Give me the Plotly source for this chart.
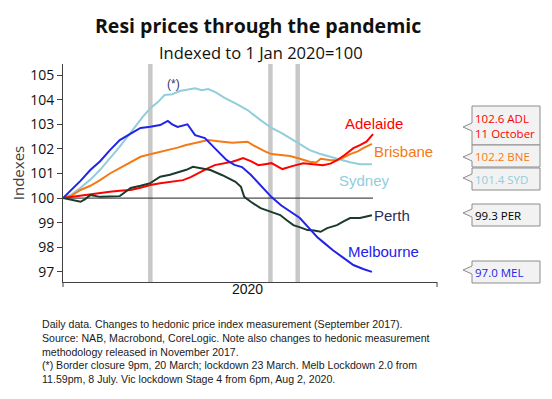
import pandas as pd
import plotly.graph_objects as go

# ---- data (days since 1 Jan 2020, index values) ----
syd_days = [0, 8, 16, 25, 34, 43, 52, 60, 66, 73, 80, 87, 93, 100, 107, 114, 121, 127, 133, 140, 148, 158, 169, 180, 191, 200, 208, 217, 226, 235, 245, 254, 263, 272, 283]
syd_vals = [100, 100.15, 100.42, 100.75, 101.15, 101.6, 102.09, 102.55, 102.9, 103.3, 103.65, 103.9, 104.19, 104.22, 104.35, 104.4, 104.46, 104.38, 104.43, 104.3, 104.07, 103.85, 103.58, 103.2, 102.85, 102.65, 102.44, 102.2, 101.95, 101.8, 101.67, 101.55, 101.46, 101.38, 101.38]

mel_days = [0, 8, 16, 25, 34, 43, 52, 62, 71, 80, 89, 96, 100, 105, 110, 114, 121, 130, 139, 150, 157, 164, 172, 179, 185, 191, 200, 208, 217, 225, 233, 240, 247, 256, 266, 275, 283]
mel_vals = [100, 100.35, 100.7, 101.14, 101.5, 101.95, 102.36, 102.62, 102.85, 102.9, 102.97, 103.14, 103.0, 102.89, 102.95, 103.0, 102.56, 102.44, 102.03, 101.54, 101.35, 101.26, 100.95, 100.61, 100.3, 100.04, 99.7, 99.45, 99.19, 98.8, 98.41, 98.15, 97.89, 97.6, 97.28, 97.12, 97.0]

bne_days = [0, 8, 16, 25, 34, 43, 52, 62, 71, 80, 89, 98, 105, 112, 122, 133, 144, 155, 162, 169, 174, 179, 185, 191, 200, 208, 217, 226, 232, 236, 244, 251, 257, 263, 270, 275, 283]
bne_vals = [100, 100.1, 100.33, 100.5, 100.73, 101.0, 101.22, 101.45, 101.68, 101.78, 101.88, 101.95, 102.05, 102.15, 102.25, 102.36, 102.3, 102.25, 102.27, 102.29, 102.15, 102.03, 101.9, 101.79, 101.75, 101.71, 101.6, 101.48, 101.45, 101.6, 101.55, 101.54, 101.65, 101.79, 101.9, 102.03, 102.2]

adl_days = [0, 8, 16, 30, 43, 52, 62, 71, 80, 89, 98, 104, 110, 117, 124, 132, 139, 147, 155, 160, 165, 172, 179, 185, 191, 196, 201, 210, 220, 229, 238, 245, 251, 258, 266, 272, 278, 284]
adl_vals = [100, 100.05, 100.12, 100.2, 100.26, 100.3, 100.33, 100.42, 100.53, 100.6, 100.66, 100.7, 100.73, 100.85, 101.02, 101.2, 101.34, 101.4, 101.48, 101.55, 101.63, 101.5, 101.34, 101.38, 101.42, 101.3, 101.18, 101.3, 101.42, 101.38, 101.34, 101.4, 101.54, 101.75, 102.03, 102.15, 102.29, 102.6]

per_days = [0, 5, 9, 16, 20, 25, 34, 43, 52, 57, 62, 71, 80, 89, 98, 107, 113, 119, 126, 135, 146, 151, 158, 163, 166, 172, 181, 190, 199, 205, 211, 218, 224, 230, 236, 242, 251, 257, 263, 272, 283]
per_vals = [100, 99.95, 99.92, 99.85, 99.95, 100.12, 100.05, 100.08, 100.08, 100.25, 100.41, 100.5, 100.61, 100.87, 100.95, 101.07, 101.15, 101.27, 101.2, 101.14, 100.93, 100.81, 100.66, 100.46, 100.05, 99.85, 99.59, 99.45, 99.31, 99.1, 98.9, 98.8, 98.7, 98.68, 98.63, 98.78, 98.9, 99.05, 99.19, 99.19, 99.3]

event_dates = ["2020-03-21", "2020-07-09", "2020-08-03"]
y_ticks = [97, 98, 99, 100, 101, 102, 103, 104, 105]

start = pd.Timestamp("2020-01-01")
def to_dates(days):
    return [start + pd.Timedelta(days=d) for d in days]

series = [
    ("Sydney", syd_days, syd_vals, "#92CDDC"),
    ("Brisbane", bne_days, bne_vals, "#F57A14"),
    ("Adelaide", adl_days, adl_vals, "#FF0000"),
    ("Perth", per_days, per_vals, "#1C3A2A"),
    ("Melbourne", mel_days, mel_vals, "#2222E8"),
]

# page body has an 8px margin; work in page pixels and shift
OFF = 8
W, H = 552 - OFF, 399 - OFF
L, R, T, B = 63, 437, 64, 282   # page pixel coords of plot area

def px(x):
    return (x - L) / (R - L)

def py(y):
    return (B - y) / (B - T)

fig = go.Figure()
for name, d, v, c in series:
    fig.add_trace(go.Scatter(x=to_dates(d), y=v, mode="lines", name=name,
                             line=dict(color=c, width=2), showlegend=False))

shapes = []
for ed in event_dates:
    shapes.append(dict(type="line", xref="x", yref="paper", x0=ed, x1=ed, y0=0, y1=1,
                       line=dict(color="#C8C8C8", width=4.5), layer="below"))
shapes.append(dict(type="line", xref="x", yref="y", x0=start, x1=start + pd.Timedelta(days=284),
                   y0=100, y1=100, line=dict(color="#202020", width=1), layer="below"))
for xp in (L, R):
    shapes.append(dict(type="line", xref="paper", yref="paper", x0=px(xp), x1=px(xp),
                       y0=0, y1=py(B + 5), line=dict(color="#404040", width=1)))

callouts = [
    ("102.6 ADL<br>11 October", "#FF0000", 106, 145, 127),
    ("102.2 BNE", "#F57A14", 145, 167, 157),
    ("101.4 SYD", "#92CDDC", 168, 190, 178),
    ("99.3 PER", "#000000", 204, 226, 213),
    ("97.0 MEL", "#2222E8", 261, 283, 270),
]
bx0, bx1, tipx = 472, 540, 463
annotations = []
for txt, col, y0, y1, ty in callouts:
    path = (f"M {px(bx0)},{py(y0)} L {px(bx1)},{py(y0)} L {px(bx1)},{py(y1)} "
            f"L {px(bx0)},{py(y1)} L {px(bx0)},{py(ty + 4)} L {px(tipx)},{py(ty)} "
            f"L {px(bx0)},{py(ty - 4)} Z")
    shapes.append(dict(type="path", xref="paper", yref="paper", path=path,
                       fillcolor="#F2F2F2", line=dict(color="#8C8C8C", width=1)))
    annotations.append(dict(xref="paper", yref="paper", x=px(bx0 + 1), y=py((y0 + y1) / 2),
                            xanchor="left", yanchor="middle", align="left", showarrow=False,
                            text=txt, font=dict(family="Open Sans", size=11.5, color=col)))

labels = [
    ("Adelaide", "#FF0000", 374, 123),
    ("Brisbane", "#F57A14", 403, 151),
    ("Sydney", "#92CDDC", 364, 180),
    ("Perth", "#2B2B5B", 392, 215),
    ("Melbourne", "#2222E8", 383, 251),
]
for txt, col, x, y in labels:
    annotations.append(dict(xref="paper", yref="paper", x=px(x), y=py(y), xanchor="center",
                            yanchor="middle", showarrow=False, text=txt,
                            font=dict(family="Liberation Sans", size=15, color=col)))

annotations.append(dict(xref="paper", yref="paper", x=px(165), y=py(75), showarrow=False,
                        text="(*)", font=dict(family="Liberation Sans", size=12, color="#33336A")))
annotations.append(dict(xref="paper", yref="paper", x=px(247), y=py(299), showarrow=False,
                        text="2020", font=dict(family="Liberation Sans", size=14, color="#111111")))
annotations.append(dict(xref="paper", yref="paper", x=px(261), y=py(52),
                        showarrow=False, text="Indexed to 1 Jan 2020=100",
                        xanchor="center", yanchor="middle",
                        font=dict(family="Open Sans", size=16.5, color="#111111")))
annotations.append(dict(xref="paper", yref="paper", x=px(258), y=py(25),
                        showarrow=False, text="<b>Resi prices through the pandemic</b>",
                        xanchor="center", yanchor="middle",
                        font=dict(family="Open Sans", size=19.5, color="#111111")))
foot = ("Daily data. Changes to hedonic price index measurement (September 2017).<br>"
        "Source: NAB, Macrobond, CoreLogic. Note also changes to hedonic measurement<br>"
        "methodology released in November 2017.<br>"
        "(*) Border closure 9pm, 20 March; lockdown 23 March. Melb Lockdown 2.0 from<br>"
        "11.59pm, 8 July. Vic lockdown Stage 4 from 6pm, Aug 2, 2020.")
annotations.append(dict(xref="paper", yref="paper", x=px(40), y=py(316), xanchor="left",
                        yanchor="top", align="left", showarrow=False, text=foot,
                        font=dict(family="Liberation Sans", size=10.6, color="#1A1A1A")))

fig.update_layout(
    width=W, height=H,
    margin=dict(l=L - OFF, r=W - (R - OFF), t=T - OFF, b=H - (B - OFF), autoexpand=False),
    paper_bgcolor="white", plot_bgcolor="white",
    xaxis=dict(type="date", range=[start, start + pd.Timedelta(days=342.6)], automargin=False,
               showgrid=False, zeroline=False, showline=True, linecolor="#404040",
               linewidth=1, showticklabels=False, ticks=""),
    yaxis=dict(range=[96.59, 105.45], tickvals=y_ticks, showgrid=False, zeroline=False,
               automargin=False,
               showline=True, linecolor="#404040", linewidth=1, ticks="outside",
               ticklen=5, tickcolor="#404040",
               tickfont=dict(family="Open Sans", size=14, color="#111111"),
               title=dict(text="Indexes", standoff=4,
                          font=dict(family="Open Sans", size=15, color="#404040"))),
    shapes=shapes, annotations=annotations,
)

fig.write_html("out.html")
